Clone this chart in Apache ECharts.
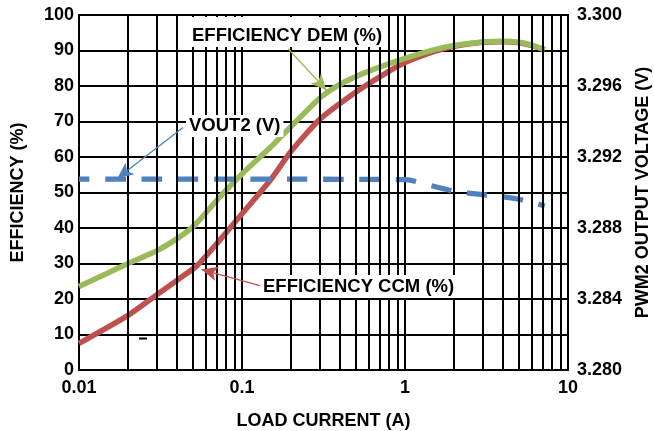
<!DOCTYPE html>
<html>
<head>
<meta charset="utf-8">
<script src="https://cdn.jsdelivr.net/npm/echarts@6/dist/echarts.min.js"></script>
<style>
html,body{margin:0;padding:0;background:#fff;}
#c{width:654px;height:431px;}
</style>
</head>
<body>
<div id="c"></div>
<script>
// ---- data ----
const currentDEM = [0.01, 0.02, 0.03, 0.04, 0.051, 0.07, 0.1, 0.15, 0.2, 0.3, 0.4, 0.6, 1, 1.5, 2, 3, 4, 5, 6, 7.2];
const effDEM     = [23.5, 30.0, 33.6, 37.0, 40.7, 47.8, 55.2, 62.8, 68.6, 76.6, 80.5, 84.2, 87.8, 90.2, 91.4, 92.4, 92.6, 92.3, 91.5, 90.3];

const currentCCM = [0.01, 0.02, 0.03, 0.04, 0.053, 0.07, 0.1, 0.15, 0.2, 0.3, 0.5, 0.7, 1, 1.5, 2, 3, 4, 5, 6, 7.2];
const effCCM     = [7.5, 15.4, 21.2, 25.3, 29.4, 35.6, 44.0, 53.6, 61.6, 70.6, 78.3, 82.6, 86.6, 89.7, 91.2, 92.3, 92.5, 92.2, 91.4, 90.2];

const currentVout = [0.01, 0.02, 0.05, 0.1, 0.2, 0.5, 1, 1.5, 2, 3, 4, 5, 6, 7.2];
const vout        = [3.29075, 3.29075, 3.29075, 3.29075, 3.29075, 3.29074, 3.29072, 3.29035, 3.29008, 3.28988, 3.28976, 3.28962, 3.28946, 3.28923];

const minorGrid = [0.02,0.03,0.04,0.05,0.06,0.07,0.08,0.09,0.2,0.3,0.4,0.5,0.6,0.7,0.8,0.9,2,3,4,5,6,7,8,9];

const xTitle = 'LOAD CURRENT (A)';
const yTitleL = 'EFFICIENCY (%)';
const yTitleR = 'PWM2 OUTPUT VOLTAGE (V)';

const GREEN = '#9BBB59', RED = '#C0504D', BLUE = '#4F81BD';
const FONT = 'Liberation Sans';
const FS = 18;

const pairs = (xs, ys) => xs.map((x, i) => [x, ys[i]]);

const chart = echarts.init(document.getElementById('c'));

const arrow = (color, from, to) => ({
  silent: true,
  symbol: ['none', 'arrow'],
  symbolSize: [12, 16],
  label: {show: false},
  lineStyle: {color: color, width: 1.3, type: 'solid'},
  emphasis: {disabled: true},
  animation: false,
  data: [[{coord: from, symbol: 'none'}, {coord: to, symbol: 'arrow', symbolSize: [11, 16]}]]
});

const txtStyle = {fontFamily: FONT, fontWeight: 'bold', fontSize: FS, color: '#000'};
const lblStyle = {fontFamily: FONT, fontWeight: 'bold', fontSize: FS, color: '#000'};
const gFont = 'bold 18.5px "Liberation Sans"';

const option = {
  animation: false,
  backgroundColor: '#fff',
  grid: {left: 79, right: 86, top: 15, bottom: 61, show: true, borderColor: '#000', borderWidth: 2,
    containLabel: false, outerBoundsMode: 'none'},
  xAxis: {
    type: 'log', logBase: 10, min: 0.01, max: 10,
    name: xTitle, nameLocation: 'middle', nameGap: 42,
    nameTextStyle: txtStyle,
    axisLine: {show: true, lineStyle: {color: '#000', width: 2}},
    axisTick: {show: false},
    axisLabel: Object.assign({margin: 9, formatter: v => String(+v.toPrecision(3))}, lblStyle),
    splitLine: {show: true, lineStyle: {color: '#000', width: 2}}
  },
  yAxis: [{
    type: 'value', min: 0, max: 100, interval: 10, position: 'left',
    name: yTitleL, nameLocation: 'middle', nameGap: 52, nameRotate: 90,
    nameTextStyle: txtStyle,
    axisLine: {show: true, lineStyle: {color: '#000', width: 2}},
    axisTick: {show: false},
    axisLabel: Object.assign({margin: 5}, lblStyle),
    splitLine: {show: true, lineStyle: {color: '#000', width: 2}}
  }, {
    type: 'value', min: 3.28, max: 3.3, interval: 0.004, position: 'right',
    name: yTitleR, nameLocation: 'middle', nameGap: 66, nameRotate: 90,
    nameTextStyle: txtStyle,
    axisLine: {show: true, lineStyle: {color: '#000', width: 2}},
    axisTick: {show: false},
    axisLabel: Object.assign({margin: 9, formatter: v => v.toFixed(3)}, lblStyle),
    splitLine: {show: false}
  }],
  series: [{
    type: 'line', z: 1, data: [[0.01, 0]], showSymbol: false, lineStyle: {width: 0},
    silent: true,
    markLine: {
      silent: true, symbol: ['none', 'none'], label: {show: false},
      lineStyle: {color: '#000', width: 2, type: 'solid'},
      emphasis: {disabled: true},
      data: minorGrid.map(v => ({xAxis: v}))
    }
  }, {
    name: 'EFFICIENCY CCM (%)', type: 'line', z: 2,
    data: pairs(currentCCM, effCCM), showSymbol: false, smooth: 0.2,
    lineStyle: {color: RED, width: 5.5},
    markLine: arrow(RED, [0.1288, 23.8], [0.0565, 28.3])
  }, {
    name: 'EFFICIENCY DEM (%)', type: 'line', z: 3,
    data: pairs(currentDEM, effDEM), showSymbol: false, smooth: 0.2,
    lineStyle: {color: GREEN, width: 5.5},
    markLine: arrow(GREEN, [0.192, 90.5], [0.33, 78.8])
  }, {
    name: 'VOUT2 (V)', type: 'line', z: 4, yAxisIndex: 1,
    data: pairs(currentVout, vout), showSymbol: false, smooth: 0.3,
    lineStyle: {color: BLUE, width: 5.3, type: [20.5, 15.8], dashOffset: 10, cap: 'butt'},
    markLine: arrow(BLUE, [0.0435, 3.29366], [0.0172, 3.2908])
  }],
  graphic: [
    {type: 'text', z: 100, left: 189, top: 17,
      style: {text: 'EFFICIENCY DEM (%)', font: gFont, fill: '#000',
        backgroundColor: '#fff', padding: [10, 3, 2, 3], lineHeight: 18}},
    {type: 'text', z: 100, left: 186, top: 115,
      style: {text: 'VOUT2 (V)', font: gFont, fill: '#000',
        backgroundColor: '#fff', padding: [2, 3, 2, 3], lineHeight: 18}},
    {type: 'text', z: 100, left: 260, top: 275,
      style: {text: 'EFFICIENCY CCM (%)', font: gFont, fill: '#000',
        backgroundColor: '#fff', padding: [3, 3, 2, 3], lineHeight: 18}},
    {type: 'rect', z: 100, shape: {x: 139, y: 337.5, width: 8, height: 2}, style: {fill: '#000'}}
  ]
};
chart.setOption(option);
</script>
</body>
</html>
